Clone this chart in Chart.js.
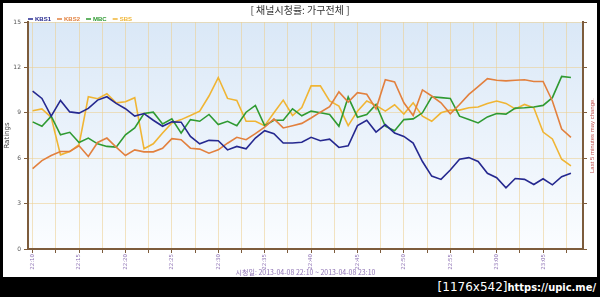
<!DOCTYPE html>
<html>
<head>
<meta charset="utf-8">
<script src="https://cdn.jsdelivr.net/npm/chart.js@4"></script>
<style>
  html, body { margin: 0; padding: 0; background: #000; width: 600px; height: 297px; overflow: hidden; }
  #box { position: absolute; left: 3px; top: 3px; width: 594px; height: 274px; background: #fff; }
  #stamp { position: absolute; right: 4px; top: 278px; color: #fff; font-family: "DejaVu Sans"; font-size: 12px; line-height: 18px; white-space: nowrap; }
  #stamp span { font-family: "DejaVu Sans Condensed", "DejaVu Sans"; font-weight: bold; font-size: 11px; }
</style>
</head>
<body>
<div id="box"><canvas id="ratingChart" width="594" height="274"></canvas></div>
<div id="stamp">[1176x542]<span>https://upic.me/</span></div>
<script>
// one point per minute, 22:10 .. 23:08
var timeLabels = ["22:10", "22:15", "22:20", "22:25", "22:30", "22:35", "22:40", "22:45", "22:50", "22:55", "23:00", "23:05"];
var channels = ["KBS1", "KBS2", "MBC", "SBS"];
var colors = ["#25288f", "#e2803e", "#2f9a32", "#f0b534"];

var kbs1 = [10.44, 9.95, 8.78, 9.82, 9.06, 8.98, 9.29, 9.84, 10.06, 9.62, 9.27, 8.78, 8.95, 8.51, 8.11,
  8.40, 8.38, 7.44, 6.95, 7.18, 7.15, 6.55, 6.78, 6.62, 7.33, 7.82, 7.62, 7.00, 7.00, 7.05,
  7.38, 7.15, 7.26, 6.71, 6.82, 8.15, 8.51, 7.73, 8.22, 7.66, 7.44, 7.00, 5.78, 4.82, 4.60,
  5.22, 5.93, 6.04, 5.78, 5.00, 4.71, 4.04, 4.66, 4.60, 4.26, 4.64, 4.24, 4.78, 5.00];
var kbs2 = [5.31, 5.84, 6.18, 6.44, 6.44, 6.82, 6.11, 7.04, 7.33, 6.73, 6.18, 6.55, 6.42, 6.42, 6.66,
  7.29, 7.22, 6.66, 6.60, 6.33, 6.55, 6.99, 7.38, 7.22, 7.62, 8.06, 8.60, 8.00, 8.15, 8.30,
  8.66, 9.04, 9.40, 10.38, 9.71, 10.33, 10.22, 9.26, 11.18, 11.04, 9.66, 8.82, 10.51, 10.11, 9.66,
  8.93, 9.55, 10.22, 10.73, 11.26, 11.15, 11.11, 11.15, 11.18, 11.07, 11.07, 9.78, 7.93, 7.38];
var mbc = [8.40, 8.11, 8.78, 7.55, 7.71, 7.04, 7.33, 6.95, 6.78, 6.73, 7.55, 8.00, 8.95, 9.04, 8.26,
  8.60, 7.66, 8.55, 8.44, 8.89, 8.22, 8.44, 8.15, 9.04, 9.49, 8.15, 8.51, 8.51, 9.26, 8.80,
  9.11, 9.00, 8.89, 8.11, 10.04, 8.71, 8.89, 9.55, 8.11, 7.82, 8.55, 8.60, 9.00, 10.06, 10.00,
  9.95, 8.78, 8.55, 8.33, 8.73, 8.95, 8.91, 9.31, 9.33, 9.38, 9.49, 10.00, 11.40, 11.33];
var sbs = [9.13, 9.26, 8.70, 6.22, 6.44, 6.90, 10.06, 9.93, 10.26, 9.66, 9.73, 10.00, 6.62, 6.95, 7.66,
  8.33, 8.55, 8.82, 9.11, 10.11, 11.33, 9.95, 9.82, 8.44, 8.44, 8.15, 9.00, 9.84, 8.82, 9.35,
  10.78, 10.78, 9.78, 9.44, 8.15, 9.11, 9.78, 9.49, 9.11, 9.53, 8.92, 9.66, 8.78, 8.44, 9.00,
  9.18, 9.18, 9.33, 9.38, 9.62, 9.78, 9.62, 9.26, 9.55, 9.33, 7.73, 7.27, 5.93, 5.49];

var series = [kbs1, kbs2, mbc, sbs];
var brown = "#7d5c3c";
var gridCol = "rgba(236,205,140,0.55)";
var purple = "#8e72b4";

function toPoints(arr) {
  return arr.map(function (v, i) { return { x: i, y: v }; });
}

var datasets = channels.map(function (name, k) {
  return {
    label: name,
    data: toPoints(series[k]),
    borderColor: colors[k],
    backgroundColor: colors[k],
    borderWidth: 1.6,
    pointRadius: 0,
    tension: 0,
    yAxisID: "y"
  };
});

// light blue fade behind the plot
var plotBg = {
  id: "plotBg",
  beforeDraw: function (chart) {
    var a = chart.chartArea, c = chart.ctx;
    var g = c.createLinearGradient(0, a.top, 0, a.bottom);
    g.addColorStop(0, "#dae8f7");
    g.addColorStop(1, "#fbfdff");
    c.save();
    c.fillStyle = g;
    c.fillRect(a.left, a.top, a.right - a.left, a.bottom - a.top);
    c.restore();
  }
};

// small legend above the plot + note on the right axis
var extras = {
  id: "extras",
  afterDraw: function (chart) {
    var c = chart.ctx;
    c.save();
    c.font = "bold 6px 'Liberation Sans'";
    c.textBaseline = "middle";
    var x = 25, y = 16;
    chart.data.datasets.forEach(function (ds) {
      c.strokeStyle = ds.borderColor;
      c.lineWidth = 1.5;
      c.beginPath();
      c.moveTo(x, y);
      c.lineTo(x + 5, y);
      c.stroke();
      c.fillStyle = ds.borderColor;
      c.fillText(ds.label, x + 7, y + 0.5);
      x += 7 + c.measureText(ds.label).width + 6;
    });
    var a = chart.chartArea;
    c.translate(a.right + 9, (a.top + a.bottom) / 2);
    c.rotate(-Math.PI / 2);
    c.textAlign = "center";
    c.fillStyle = "#c0504d";
    c.font = "6px 'Liberation Sans'";
    c.fillText("Last 5 minutes may change.", 0, 0);
    c.restore();
  }
};

var ctx = document.getElementById("ratingChart").getContext("2d");
var ratingChart = new Chart(ctx, {
  type: "line",
  data: { datasets: datasets },
  plugins: [plotBg, extras],
  options: {
    responsive: false,
    animation: false,
    layout: { padding: { top: 0, bottom: 0, left: 0, right: 0 } },
    plugins: {
      legend: { display: false },
      tooltip: { enabled: false },
      title: {
        display: true,
        text: "[ 채널시청률: 가구전체 ]",
        color: "#333",
        font: { family: "'Noto Sans CJK KR'", size: 10, weight: "normal" },
        padding: { top: 1, bottom: 6 }
      }
    },
    scales: {
      x: {
        type: "linear",
        min: -0.5,
        max: 59.3,
        afterFit: function (scale) { scale.height = 28; },
        afterBuildTicks: function (scale) {
          var t = [];
          for (var v = 0; v <= 57.5; v += 2.5) t.push({ value: v });
          scale.ticks = t;
        },
        ticks: {
          autoSkip: false,
          minRotation: 90,
          maxRotation: 90,
          padding: 1,
          color: purple,
          font: { family: "'DejaVu Sans'", size: 5.5 },
          callback: function (v) {
            return v % 5 === 0 ? timeLabels[v / 5] : "";
          }
        },
        grid: { color: gridCol, tickColor: brown, tickLength: 4 },
        border: { color: brown, width: 2 },
        title: {
          display: true,
          text: "시청일: 2013-04-08 22:10 ~ 2013-04-08 23:10",
          color: purple,
          font: { family: "'Noto Sans CJK KR'", size: 7, lineHeight: 1 },
          padding: { top: 0, bottom: 1 }
        }
      },
      y: {
        position: "left",
        min: 0,
        max: 15,
        afterFit: function (scale) { scale.width = 25; },
        ticks: {
          stepSize: 3,
          padding: 3,
          color: "#555",
          font: { family: "'DejaVu Sans'", size: 6 }
        },
        grid: { color: gridCol, tickColor: brown, tickLength: 4 },
        border: { color: brown, width: 2 },
        title: {
          display: true,
          text: "Ratings",
          color: "#444",
          font: { family: "'DejaVu Sans'", size: 7 },
          padding: 0
        }
      },
      y2: {
        position: "right",
        min: 0,
        max: 15,
        afterFit: function (scale) { scale.width = 14; },
        ticks: { stepSize: 3, callback: function () { return ""; } },
        grid: { drawOnChartArea: false, tickColor: brown, tickLength: 4 },
        border: { color: brown, width: 2 }
      }
    }
  }
});
</script>
</body>
</html>
